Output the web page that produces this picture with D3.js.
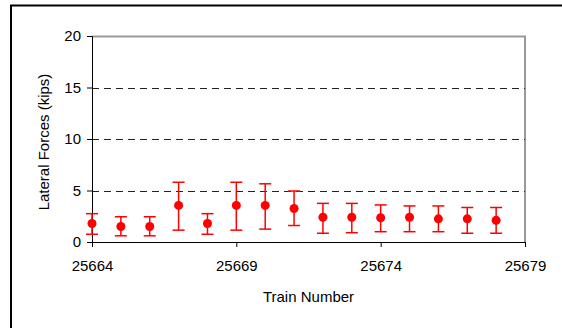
<!DOCTYPE html>
<html>
<head>
<meta charset="utf-8">
<script src="https://cdn.jsdelivr.net/npm/d3@7"></script>
<style>
  body { margin: 0; background: #fff; }
  svg { display: block; font-family: Arial, "Liberation Sans", sans-serif; }
</style>
</head>
<body>
<div id="chart"></div>
<script>
const trains = [25664, 25665, 25666, 25667, 25668, 25669, 25670, 25671, 25672, 25673, 25674, 25675, 25676, 25677, 25678];
const means  = [1.8, 1.5, 1.5, 3.55, 1.8, 3.55, 3.55, 3.25, 2.4, 2.4, 2.35, 2.4, 2.25, 2.25, 2.1];
const highs  = [2.75, 2.45, 2.45, 5.8, 2.75, 5.8, 5.65, 4.95, 3.75, 3.75, 3.6, 3.5, 3.5, 3.35, 3.35];
const lows   = [0.75, 0.6, 0.6, 1.15, 0.75, 1.15, 1.25, 1.6, 0.85, 0.9, 1.0, 1.0, 1.0, 0.85, 0.85];
const xTicks = [25664, 25669, 25674, 25679];
const yTicks = [0, 5, 10, 15, 20];

const width = 562, height = 328;
const margin = { top: 36, right: 37, bottom: 86, left: 92 };
const w = width - margin.left - margin.right;
const h = height - margin.top - margin.bottom;
const fontSize = 15;

const svg = d3.select("#chart").append("svg")
  .attr("width", width)
  .attr("height", height);

// outer chart frame (cut off at right and bottom)
svg.append("rect")
  .attr("x", 11).attr("y", 5.5)
  .attr("width", 600).attr("height", 400)
  .attr("fill", "none").attr("stroke", "#000").attr("stroke-width", 2);

const g = svg.append("g").attr("transform", `translate(${margin.left},${margin.top})`);

const x = d3.scaleLinear().domain([25664, 25679]).range([0, w]);
const y = d3.scaleLinear().domain([0, 20]).range([h, 0]);

// plot area border, top and right in gray
g.append("path")
  .attr("d", `M0,0.5H${w}V${h}`)
  .attr("fill", "none").attr("stroke", "#999").attr("stroke-width", 2);

// dashed gridlines
g.selectAll(".grid").data(yTicks.filter(d => d > 0 && d < 20)).enter()
  .append("line")
  .attr("x1", 0).attr("x2", w)
  .attr("y1", d => Math.round(y(d)) + 0.5).attr("y2", d => Math.round(y(d)) + 0.5)
  .attr("stroke", "#222").attr("stroke-dasharray", "7,5");

const yAxis = g.append("g")
  .call(d3.axisLeft(y).tickValues(yTicks).tickSize(5).tickPadding(6).tickFormat(d3.format("d")));
const xAxis = g.append("g").attr("transform", `translate(0,${h})`)
  .call(d3.axisBottom(x).tickValues(xTicks).tickSize(5).tickPadding(13).tickFormat(d3.format("d")));

[yAxis, xAxis].forEach(a => {
  a.select(".domain").attr("stroke", "#000");
  a.selectAll(".tick line").attr("stroke", "#000");
  a.selectAll("text").attr("font-size", fontSize).attr("font-family", "Arial, 'Liberation Sans', sans-serif").attr("fill", "#000");
});

// error bars
const red = "#ff0000";
const bars = g.selectAll(".err").data(trains).enter().append("g");
bars.append("line")
  .attr("x1", d => x(d)).attr("x2", d => x(d))
  .attr("y1", (d, i) => y(highs[i])).attr("y2", (d, i) => y(lows[i]))
  .attr("stroke", red).attr("stroke-width", 1.5);
bars.append("line")
  .attr("x1", d => x(d) - 6).attr("x2", d => x(d) + 6)
  .attr("y1", (d, i) => y(highs[i])).attr("y2", (d, i) => y(highs[i]))
  .attr("stroke", red).attr("stroke-width", 1.5);
bars.append("line")
  .attr("x1", d => x(d) - 6).attr("x2", d => x(d) + 6)
  .attr("y1", (d, i) => y(lows[i])).attr("y2", (d, i) => y(lows[i]))
  .attr("stroke", red).attr("stroke-width", 1.5);
bars.append("circle")
  .attr("cx", d => x(d)).attr("cy", (d, i) => y(means[i]))
  .attr("r", 4.5).attr("fill", red);

// axis titles
svg.append("text")
  .attr("x", margin.left + w / 2).attr("y", 302)
  .attr("text-anchor", "middle").attr("font-size", fontSize)
  .text("Train Number");

svg.append("text")
  .attr("transform", `translate(49,142) rotate(-90)`)
  .attr("text-anchor", "middle").attr("font-size", fontSize)
  .text("Lateral Forces (kips)");
</script>
</body>
</html>
